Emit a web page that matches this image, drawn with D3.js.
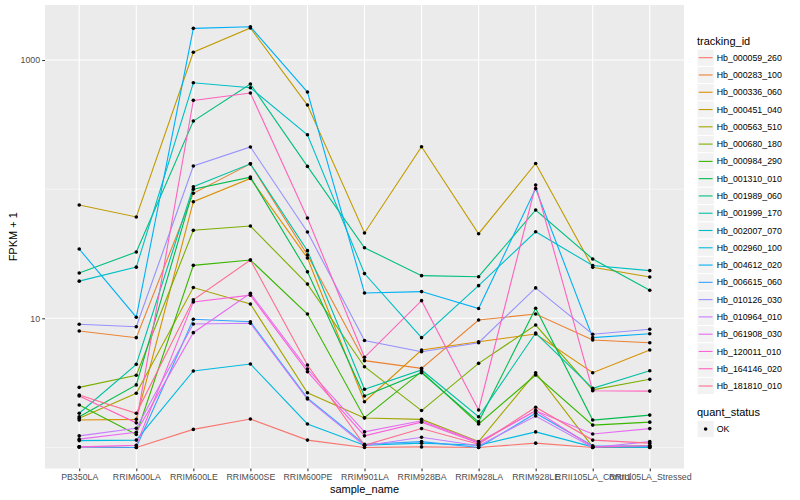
<!DOCTYPE html>
<html>
<head>
<meta charset="utf-8">
<script src="https://cdn.jsdelivr.net/npm/d3@7/dist/d3.min.js"></script>
<style>
  html, body { margin: 0; padding: 0; background: #ffffff; }
  svg { display: block; font-family: "Liberation Sans", Arial, Helvetica, sans-serif; }
</style>
</head>
<body>
<svg id="chart" width="800" height="500"></svg>
<script>
// ---- data (FPKM + 1) ----
const samples = ["PB350LA","RRIM600LA","RRIM600LE","RRIM600SE","RRIM600PE","RRIM901LA",
                 "RRIM928BA","RRIM928LA","RRIM928LE","RRII105LA_Control","RRII105LA_Stressed"];

const trackingIds = ["Hb_000059_260","Hb_000283_100","Hb_000336_060","Hb_000451_040","Hb_000563_510",
  "Hb_000680_180","Hb_000984_290","Hb_001310_010","Hb_001989_060","Hb_001999_170","Hb_002007_070",
  "Hb_002960_100","Hb_004612_020","Hb_006615_060","Hb_010126_030","Hb_010964_010","Hb_061908_030",
  "Hb_120011_010","Hb_164146_020","Hb_181810_010"];

const hb_000059_260 = [1.01, 1.0, 1.38, 1.66, 1.14, 1.0, 1.01, 1.0, 1.08, 1.0, 1.0];
const hb_000283_100 = [7.97, 7.08, 92.9, 157, 30.9, 4.70, 4.10, 9.70, 10.8, 6.79, 6.47];
const hb_000336_060 = [1.63, 1.65, 80.0, 121, 29.3, 2.26, 5.68, 6.59, 7.56, 3.79, 5.68];
const hb_000451_040 = [75.4, 60.9, 1148, 1770, 448, 45.8, 213, 45.2, 158, 24.8, 20.9];
const hb_000563_510 = [1.68, 2.63, 17.3, 12.9, 2.65, 1.69, 1.65, 1.11, 3.79, 1.01, 1.03];
const hb_000680_180 = [2.92, 3.62, 48.0, 51.8, 18.4, 4.22, 1.93, 4.48, 8.87, 2.79, 3.37];
const hb_000984_290 = [2.13, 1.26, 25.7, 28.3, 10.8, 1.70, 3.86, 1.52, 3.64, 1.49, 1.57];
const hb_001310_010 = [1.73, 3.05, 99.7, 124, 22.9, 2.50, 3.79, 1.58, 11.95, 1.63, 1.78];
const hb_001989_060 = [22.4, 32.6, 337, 652, 150, 35.2, 21.4, 21.0, 69.0, 28.8, 16.5];
const hb_001999_170 = [1.84, 4.40, 104.5, 157, 33.4, 2.82, 3.98, 1.73, 7.69, 2.87, 3.93];
const hb_002007_070 = [19.4, 24.9, 667, 610, 264, 22.2, 7.08, 17.9, 46.8, 25.6, 23.4];
const hb_002960_100 = [1.13, 1.14, 3.91, 4.43, 1.52, 1.04, 1.08, 1.04, 1.32, 1.01, 1.0];
const hb_004612_020 = [34.4, 10.2, 1759, 1811, 565, 15.7, 16.1, 11.9, 101, 7.08, 7.60];
const hb_006615_060 = [1.01, 1.0, 9.82, 9.41, 2.41, 1.06, 1.11, 1.0, 1.84, 1.03, 1.02];
const hb_010126_030 = [8.99, 8.61, 151, 212, 46.6, 6.73, 5.51, 6.47, 17.2, 7.52, 8.22];
const hb_010964_010 = [1.23, 1.41, 9.04, 9.15, 2.37, 1.03, 1.20, 1.03, 1.75, 1.0, 1.11];
const hb_061908_030 = [1.16, 1.31, 7.74, 15.6, 4.05, 1.32, 1.61, 1.10, 1.92, 1.27, 1.40];
const hb_120011_010 = [1.01, 1.04, 13.4, 15.1, 3.86, 1.23, 1.57, 1.08, 1.93, 1.01, 1.03];
const hb_164146_020 = [2.50, 1.55, 487, 555, 59.8, 4.99, 13.7, 1.95, 107.7, 2.75, 2.73];
const hb_181810_010 = [2.55, 1.84, 13.9, 28.3, 4.35, 1.04, 1.40, 1.06, 2.05, 1.14, 1.08];

const seriesValues = [hb_000059_260, hb_000283_100, hb_000336_060, hb_000451_040, hb_000563_510,
  hb_000680_180, hb_000984_290, hb_001310_010, hb_001989_060, hb_001999_170, hb_002007_070,
  hb_002960_100, hb_004612_020, hb_006615_060, hb_010126_030, hb_010964_010, hb_061908_030,
  hb_120011_010, hb_164146_020, hb_181810_010];

const colors = ["#F8766D","#EA8331","#D89000","#C09B00","#A3A500","#7CAE00","#39B600","#00BB4E",
  "#00BF7D","#00C1A3","#00BFC4","#00BAE0","#00B0F6","#35A2FF","#9590FF","#C77CFF","#E76BF3",
  "#FA62DB","#FF62BC","#FF6C91"];

const majorY = [10, 1000];
const minorY = [1, 100];
const quantStatus = ["OK"];

// ---- layout ----
const svg = d3.select("#chart");
const panel = { left: 45, right: 684, top: 5, bottom: 468.5 };

const x = d3.scalePoint().domain(samples).range([panel.left, panel.right]).padding(0.6);
const y = d3.scaleLog().domain([Math.pow(10, -0.163), Math.pow(10, 3.426)]).range([panel.bottom, panel.top]);

const series = trackingIds.map((id, i) => ({
  id, color: colors[i],
  points: samples.map((s, j) => ({ s, v: seriesValues[i][j] }))
}));

// panel background
svg.append("rect")
  .attr("x", panel.left).attr("y", panel.top)
  .attr("width", panel.right - panel.left).attr("height", panel.bottom - panel.top)
  .attr("fill", "#EBEBEB");

const grid = svg.append("g");
grid.selectAll(".ymin").data(minorY).enter().append("line")
  .attr("x1", panel.left).attr("x2", panel.right)
  .attr("y1", d => y(d)).attr("y2", d => y(d))
  .attr("stroke", "#ffffff").attr("stroke-width", 0.55);
grid.selectAll(".ymaj").data(majorY).enter().append("line")
  .attr("x1", panel.left).attr("x2", panel.right)
  .attr("y1", d => y(d)).attr("y2", d => y(d))
  .attr("stroke", "#ffffff").attr("stroke-width", 1.1);
grid.selectAll(".xmaj").data(samples).enter().append("line")
  .attr("x1", d => x(d)).attr("x2", d => x(d))
  .attr("y1", panel.top).attr("y2", panel.bottom)
  .attr("stroke", "#ffffff").attr("stroke-width", 1.1);

// lines
const line = d3.line().x(d => x(d.s)).y(d => y(d.v));
svg.append("g").selectAll("path").data(series).enter().append("path")
  .attr("d", d => line(d.points))
  .attr("fill", "none")
  .attr("stroke", d => d.color)
  .attr("stroke-width", 1.1);

// points
const allPts = series.flatMap(d => d.points);
svg.append("g").selectAll("circle").data(allPts).enter().append("circle")
  .attr("cx", d => x(d.s)).attr("cy", d => y(d.v))
  .attr("r", 1.8).attr("fill", "#000000");

// axes
const yAxis = svg.append("g").attr("transform", `translate(${panel.left},0)`)
  .call(d3.axisLeft(y).tickValues(majorY).tickFormat(d3.format("d")).tickSize(2.75).tickPadding(2.2));
const xAxis = svg.append("g").attr("transform", `translate(0,${panel.bottom})`)
  .call(d3.axisBottom(x).tickSize(2.75).tickPadding(2.2));
[yAxis, xAxis].forEach(a => {
  a.select(".domain").remove();
  a.selectAll(".tick line").attr("stroke", "#333333").attr("stroke-width", 1.07);
  a.selectAll(".tick text").attr("fill", "#4D4D4D").style("font-size", "8.8px")
    .style("font-family", "'Liberation Sans', Arial, sans-serif");
});

// axis titles
svg.append("text").attr("x", (panel.left + panel.right) / 2).attr("y", 492.5)
  .attr("text-anchor", "middle").style("font-size", "11px").attr("fill", "#000")
  .text("sample_name");
svg.append("text")
  .attr("transform", `translate(17,${(panel.top + panel.bottom) / 2}) rotate(-90)`)
  .attr("text-anchor", "middle").style("font-size", "11px").attr("fill", "#000")
  .text("FPKM + 1");

// legend: tracking_id
const lg = svg.append("g");
const keyX = 697, keyS = 17.28, key0 = 49.06;
lg.append("text").attr("x", keyX).attr("y", 44.5).style("font-size", "11px").text("tracking_id");
const items = lg.selectAll(".item").data(series).enter().append("g")
  .attr("transform", (d, i) => `translate(${keyX},${key0 + i * keyS})`);
items.append("rect").attr("width", keyS).attr("height", keyS)
  .attr("fill", "#F2F2F2").attr("stroke", "#ffffff").attr("stroke-width", 1);
items.append("line").attr("x1", 1.7).attr("x2", keyS - 1.7)
  .attr("y1", keyS / 2).attr("y2", keyS / 2)
  .attr("stroke", d => d.color).attr("stroke-width", 1.1);
items.append("text").attr("x", keyS + 2.5).attr("y", keyS / 2 + 3.1)
  .style("font-size", "8.8px").attr("fill", "#000").text(d => d.id);

// legend: quant_status
const qg = svg.append("g");
qg.append("text").attr("x", keyX).attr("y", 416).style("font-size", "11px").text("quant_status");
const qItems = qg.selectAll(".q").data(quantStatus).enter().append("g")
  .attr("transform", (d, i) => `translate(${keyX},${420.4 + i * keyS})`);
qItems.append("rect").attr("width", keyS).attr("height", keyS)
  .attr("fill", "#F2F2F2").attr("stroke", "#ffffff").attr("stroke-width", 1);
qItems.append("circle").attr("cx", keyS / 2).attr("cy", keyS / 2).attr("r", 1.8).attr("fill", "#000");
qItems.append("text").attr("x", keyS + 2.5).attr("y", keyS / 2 + 3.1)
  .style("font-size", "8.8px").attr("fill", "#000").text(d => d);
</script>
</body>
</html>
